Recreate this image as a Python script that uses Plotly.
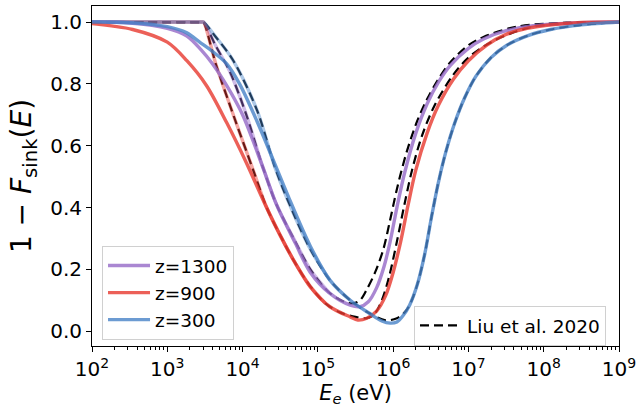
import numpy as np
import plotly.graph_objects as go

# ---------------- data (log10 of E in eV, and 1 - F_sink) ----------------
# model curves
logE_z1300 = [2.0, 2.5, 3.0, 3.26, 3.45, 3.6, 3.8, 4.0, 4.27, 4.45, 4.7, 4.9, 5.16, 5.43, 5.56,
              5.67, 5.78, 5.88, 5.96, 6.05, 6.15, 6.3, 6.45, 6.6, 6.76, 7.0, 7.2, 7.5, 7.86, 8.5, 9.0]
f_z1300 = [1.0, 0.997, 0.98, 0.955, 0.91, 0.865, 0.79, 0.70, 0.53, 0.41, 0.285, 0.19, 0.122, 0.084, 0.079,
           0.095, 0.14, 0.21, 0.29, 0.40, 0.51, 0.64, 0.735, 0.805, 0.86, 0.915, 0.945, 0.972, 0.988, 0.998, 1.0]

logE_z900 = [2.0, 2.54, 3.0, 3.26, 3.52, 3.79, 4.05, 4.3, 4.5, 4.7, 4.9, 5.16, 5.43, 5.53, 5.65,
             5.78, 5.9, 6.0, 6.1, 6.2, 6.3, 6.45, 6.6, 6.8, 7.0, 7.24, 7.5, 7.78, 8.4, 9.0]
f_z900 = [0.995, 0.976, 0.935, 0.875, 0.795, 0.674, 0.545, 0.41, 0.31, 0.22, 0.143, 0.079, 0.046, 0.036, 0.042,
          0.065, 0.115, 0.19, 0.29, 0.41, 0.52, 0.64, 0.73, 0.815, 0.875, 0.925, 0.96, 0.98, 0.997, 1.0]

logE_z300 = [2.0, 2.5, 3.0, 3.26, 3.43, 3.6, 3.79, 3.96, 4.19, 4.43, 4.6, 4.9, 5.16, 5.43, 5.69,
             5.85, 5.96, 6.05, 6.13, 6.22, 6.32, 6.42, 6.51, 6.6, 6.7, 6.82, 6.95, 7.1, 7.3, 7.51, 7.8,
             8.09, 8.5, 9.0]
f_z300 = [1.0, 0.998, 0.985, 0.965, 0.935, 0.905, 0.865, 0.80, 0.68, 0.54, 0.44, 0.275, 0.165, 0.10, 0.057,
          0.033, 0.026, 0.03, 0.05, 0.085, 0.15, 0.25, 0.37, 0.48, 0.58, 0.675, 0.755, 0.825, 0.885, 0.925, 0.957,
          0.976, 0.991, 1.0]

# Liu et al. 2020 reference curves (flat at 1 up to the kink near 3 keV)
logE_liu1300 = [2.0, 3.46, 3.48, 3.65, 3.83, 4.05, 4.27, 4.45, 4.7, 4.9, 5.15, 5.35, 5.47, 5.56, 5.65, 5.76,
                5.87, 5.96, 6.06, 6.18, 6.32, 6.45, 6.6, 6.76, 7.0, 7.2, 7.64, 8.3, 9.0]
f_liu1300 = [1.0, 1.0, 1.0, 0.92, 0.84, 0.70, 0.53, 0.41, 0.29, 0.20, 0.125, 0.095, 0.09, 0.10, 0.135, 0.19,
             0.265, 0.36, 0.47, 0.58, 0.68, 0.75, 0.815, 0.87, 0.925, 0.952, 0.985, 0.998, 1.0]

logE_liu900 = [2.0, 3.46, 3.48, 3.65, 3.90, 4.14, 4.32, 4.5, 4.7, 4.9, 5.1, 5.3, 5.5, 5.65, 5.75, 5.85,
               5.95, 6.05, 6.15, 6.25, 6.38, 6.55, 6.8, 7.0, 7.3, 7.8, 8.4, 9.0]
f_liu900 = [1.0, 1.0, 1.0, 0.86, 0.684, 0.522, 0.40, 0.31, 0.22, 0.145, 0.09, 0.06, 0.046, 0.042, 0.055, 0.10,
            0.18, 0.29, 0.41, 0.52, 0.63, 0.73, 0.83, 0.885, 0.935, 0.982, 0.997, 1.0]

logE_liu300 = [2.0, 3.46, 3.48, 3.65, 3.87, 4.19, 4.43, 4.59, 4.9, 5.16, 5.43, 5.69, 5.9, 6.05, 6.15, 6.22,
               6.32, 6.42, 6.51, 6.6, 6.7, 6.82, 6.95, 7.1, 7.3, 7.51, 7.8, 8.09, 8.5, 9.0]
f_liu300 = [1.0, 1.0, 1.0, 0.95, 0.878, 0.716, 0.53, 0.43, 0.265, 0.165, 0.10, 0.057, 0.035, 0.042, 0.06, 0.085,
            0.15, 0.25, 0.37, 0.48, 0.58, 0.675, 0.755, 0.825, 0.885, 0.925, 0.957, 0.976, 0.991, 1.0]

labels = ["z=1300", "z=900", "z=300"]
liu_label = "Liu et al. 2020"
x_tick_exponents = [2, 3, 4, 5, 6, 7, 8, 9]
y_tick_values = [0.0, 0.2, 0.4, 0.6, 0.8, 1.0]

# ---------------- styling ----------------
FONT = "DejaVu Sans"
ALPHA = 0.8
base_cols = [(149, 105, 199), (231, 56, 46), (71, 130, 199)]


def rgba(c, a):
    return f"rgba({c[0]},{c[1]},{c[2]},{a})"


models = [(logE_z1300, f_z1300), (logE_z900, f_z900), (logE_z300, f_z300)]
liu = [(logE_liu1300, f_liu1300), (logE_liu900, f_liu900), (logE_liu300, f_liu300)]
PALE_MAX = 5.2  # pale overlay of reference curves on the low-energy side

fig = go.Figure()

# dashed reference curves (under)
for i, (lx, ly) in enumerate(liu):
    fig.add_trace(go.Scatter(
        x=10 ** np.array(lx), y=ly, mode="lines",
        line=dict(color="black", width=2.2, dash="9px,5px", shape="spline", smoothing=0.9),
        name=liu_label, legend="legend2", showlegend=(i == 0), hoverinfo="skip"))

# pale colored overlay along reference curves (low-energy side)
for i, (lx, ly) in enumerate(liu):
    lx = np.array(lx)
    m = lx <= PALE_MAX
    fig.add_trace(go.Scatter(
        x=10 ** lx[m], y=np.array(ly)[m], mode="lines",
        line=dict(color=rgba(base_cols[i], 0.45), width=3.4, shape="spline", smoothing=0.9),
        showlegend=False, hoverinfo="skip"))

# model curves
for i, (mx, my) in enumerate(models):
    fig.add_trace(go.Scatter(
        x=10 ** np.array(mx), y=my, mode="lines",
        line=dict(color=rgba(base_cols[i], ALPHA), width=3.4, shape="spline", smoothing=0.9),
        name=labels[i], legend="legend", showlegend=True))

axis_common = dict(showline=True, linecolor="black", linewidth=1, mirror=True,
                   ticks="outside", tickcolor="black", ticklen=5, tickwidth=1,
                   showgrid=False, zeroline=False, automargin=False,
                   tickfont=dict(family=FONT, size=20, color="black"))

fig.update_xaxes(type="log", range=[2, 9],
                 tickvals=[10 ** e for e in x_tick_exponents],
                 ticktext=[f"10<sup>{e}</sup>" for e in x_tick_exponents],
                 minor=dict(ticks="outside", ticklen=3, tickcolor="black", tickwidth=0.8,
                            dtick="D1", showgrid=False),
                 title=dict(text="<i>E</i><sub><i>e</i></sub> (eV)",
                            font=dict(family=FONT, size=21, color="black"), standoff=4),
                 **axis_common)
fig.update_yaxes(range=[-0.048, 1.052],
                 tickvals=y_tick_values,
                 ticktext=[f"{v:.1f}" for v in y_tick_values],
                 title=dict(text="1 − <i>F</i><sub>sink</sub>(<i>E</i>)",
                            font=dict(family=FONT, size=28, color="black"), standoff=10),
                 **axis_common)

fig.update_layout(
    width=638, height=412,
    margin=dict(l=92, r=19, t=6, b=66, autoexpand=False),
    paper_bgcolor="white", plot_bgcolor="white",
    font=dict(family=FONT, color="black"),
    legend=dict(x=0.019, y=0.294, xanchor="left", yanchor="top",
                bgcolor="rgba(255,255,255,0.8)", bordercolor="#d0d0d0", borderwidth=1,
                font=dict(family=FONT, size=18.5, color="black"), itemwidth=42,
                tracegroupgap=0),
    legend2=dict(x=0.611, y=0.118, xanchor="left", yanchor="top",
                 bgcolor="rgba(255,255,255,0.8)", bordercolor="#d0d0d0", borderwidth=1,
                 font=dict(family=FONT, size=18.5, color="black"), itemwidth=42),
)

fig.write_html("out.html", config={"displayModeBar": False},
               post_script="document.body.style.margin='0px';document.body.style.overflow='hidden';")
